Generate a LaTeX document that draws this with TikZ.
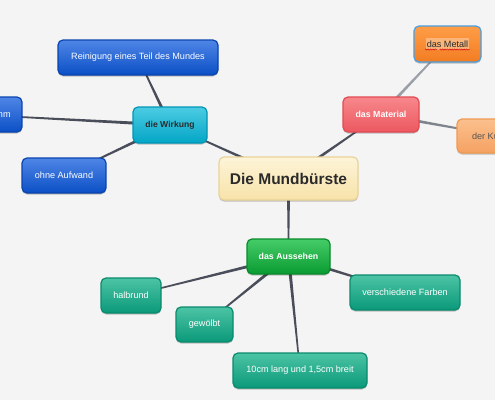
\documentclass[tikz,border=0pt]{standalone}
\usepackage{fontspec}
\setmainfont{Liberation Sans}
\usetikzlibrary{calc,shadows,decorations.pathmorphing}
\pgfdeclarelayer{bg}
\pgfsetlayers{bg,main}
\definecolor{bgc}{HTML}{F4F4F4}
\definecolor{linedark}{HTML}{4A4E5A}
\definecolor{linelight}{HTML}{9BA0A8}
\definecolor{linemid}{HTML}{7E838C}
\definecolor{blueT}{HTML}{4F86E6}
\definecolor{blueB}{HTML}{0B4FC6}
\definecolor{blueD}{HTML}{0A44AE}
\definecolor{cyanT}{HTML}{4CCBE3}
\definecolor{cyanB}{HTML}{03A6C6}
\definecolor{cyanD}{HTML}{0296B6}
\definecolor{creamT}{HTML}{FDF4D8}
\definecolor{creamB}{HTML}{F7E2A8}
\definecolor{creamD}{HTML}{EAD39A}
\definecolor{redT}{HTML}{F7888C}
\definecolor{redB}{HTML}{EC5860}
\definecolor{redD}{HTML}{E34A53}
\definecolor{orT}{HTML}{FF9E48}
\definecolor{orB}{HTML}{F27C22}
\definecolor{orD}{HTML}{4A9FE0}
\definecolor{hl}{HTML}{F9B57A}
\definecolor{ltT}{HTML}{FBC08E}
\definecolor{ltB}{HTML}{F5A161}
\definecolor{ltD}{HTML}{F09A55}
\definecolor{grT}{HTML}{45CC68}
\definecolor{grB}{HTML}{0A9B32}
\definecolor{grD}{HTML}{0A8B2B}
\definecolor{tlT}{HTML}{4CC4A4}
\definecolor{tlB}{HTML}{0A997A}
\definecolor{tlD}{HTML}{0A8B6D}
\definecolor{txtdark}{HTML}{2A2A2A}
\newcommand\conn[3][linedark]{%
  \fill[#1] ($(#2.center)!1.7pt!90:(#3.center)$) -- ($(#3.center)!0.6pt!-90:(#2.center)$)
   -- ($(#3.center)!0.6pt!90:(#2.center)$) -- ($(#2.center)!1.7pt!-90:(#3.center)$) -- cycle;}
\begin{document}
\begin{tikzpicture}[x=1pt,y=-1pt,
  box/.style={rounded corners=5pt, draw, line width=1.2pt, inner sep=0pt, align=center,
    drop shadow={shadow xshift=0pt, shadow yshift=-1.5pt, opacity=0.22, fill=black}},
  sm/.style={font=\fontsize{9.1}{11}\selectfont},
  bluebox/.style={box, sm, top color=blueT, bottom color=blueB, draw=blueD, text=white},
  cyanbox/.style={box, top color=cyanT, bottom color=cyanB, draw=cyanD, text=txtdark, font=\fontsize{8.6}{10}\selectfont\bfseries},
  centerbox/.style={box, top color=creamT, bottom color=creamB, draw=creamD, text=txtdark, font=\fontsize{15.5}{18}\selectfont\bfseries},
  redbox/.style={box, top color=redT, bottom color=redB, draw=redD, text=white, font=\fontsize{8.8}{10}\selectfont\bfseries},
  orbox/.style={box, sm, top color=orT, bottom color=orB, draw=orD, text=txtdark},
  ltbox/.style={box, sm, top color=ltT, bottom color=ltB, draw=ltD, text=txtdark!80},
  greenbox/.style={box, top color=grT, bottom color=grB, draw=grD, text=white, font=\fontsize{8.8}{10}\selectfont\bfseries},
  tealbox/.style={box, sm, top color=tlT, bottom color=tlB, draw=tlD, text=white},
  squig/.style={draw=red!85!black, line width=0.5pt, decorate, decoration={snake, amplitude=0.6pt, segment length=2.4pt}}
]
\useasboundingbox (0,0) rectangle (495,400);
\begin{pgfonlayer}{bg}
\fill[bgc] (0,0) rectangle (495,400);
\end{pgfonlayer}

\node[centerbox, minimum width=139pt, minimum height=43pt] (center) at (288.5,178.5) {Die Mundbürste};

\node[cyanbox, minimum width=74pt, minimum height=36pt] (wirk) at (170,125) {die Wirkung};
\node[bluebox, minimum width=160pt, minimum height=35pt] (rein) at (138,57.5) {Reinigung eines Teil des Mundes};
\node[bluebox, minimum width=96pt, minimum height=35pt] (left) at (-26,114.5) {wie ein Schwamm};
\node[bluebox, minimum width=84pt, minimum height=35pt] (ohne) at (64,175.5) {ohne Aufwand};

\node[redbox, minimum width=76pt, minimum height=35pt] (mat) at (381,114.5) {das Material};
\node[orbox, minimum width=67pt, minimum height=36pt] (metall) at (447.5,44) {\colorbox{hl}{\hspace{-2pt}das Metall\hspace{-2pt}}};
\node[ltbox, minimum width=86pt, minimum height=34pt] (kunst) at (500,136) {der Kunststoff};

\node[greenbox, minimum width=83pt, minimum height=35pt] (auss) at (288.5,256.5) {das Aussehen};
\node[tealbox, minimum width=60pt, minimum height=35pt] (halb) at (131,295.5) {halbrund};
\node[tealbox, minimum width=57pt, minimum height=35pt] (gew) at (204.5,324.5) {gewölbt};
\node[tealbox, minimum width=134pt, minimum height=35pt] (zehn) at (300,370.5) {10cm lang und 1,5cm breit};
\node[tealbox, minimum width=110pt, minimum height=35pt] (farb) at (405,292.5) {verschiedene Farben};

\path[squig] ($(metall.center)+(-22.5,5.5)$) -- ($(metall.center)+(-10.5,5.5)$);
\path[squig] ($(metall.center)+(-8,5.5)$) -- ($(metall.center)+(22,5.5)$);

\begin{pgfonlayer}{bg}
\conn{center}{wirk}
\conn{center}{mat}
\conn{center}{auss}
\conn{wirk}{rein}
\conn{wirk}{left}
\conn{wirk}{ohne}
\conn[linelight]{mat}{metall}
\conn[linemid]{mat}{kunst}
\conn{auss}{halb}
\conn{auss}{gew}
\conn{auss}{zehn}
\conn{auss}{farb}
\end{pgfonlayer}
\end{tikzpicture}
\end{document}
